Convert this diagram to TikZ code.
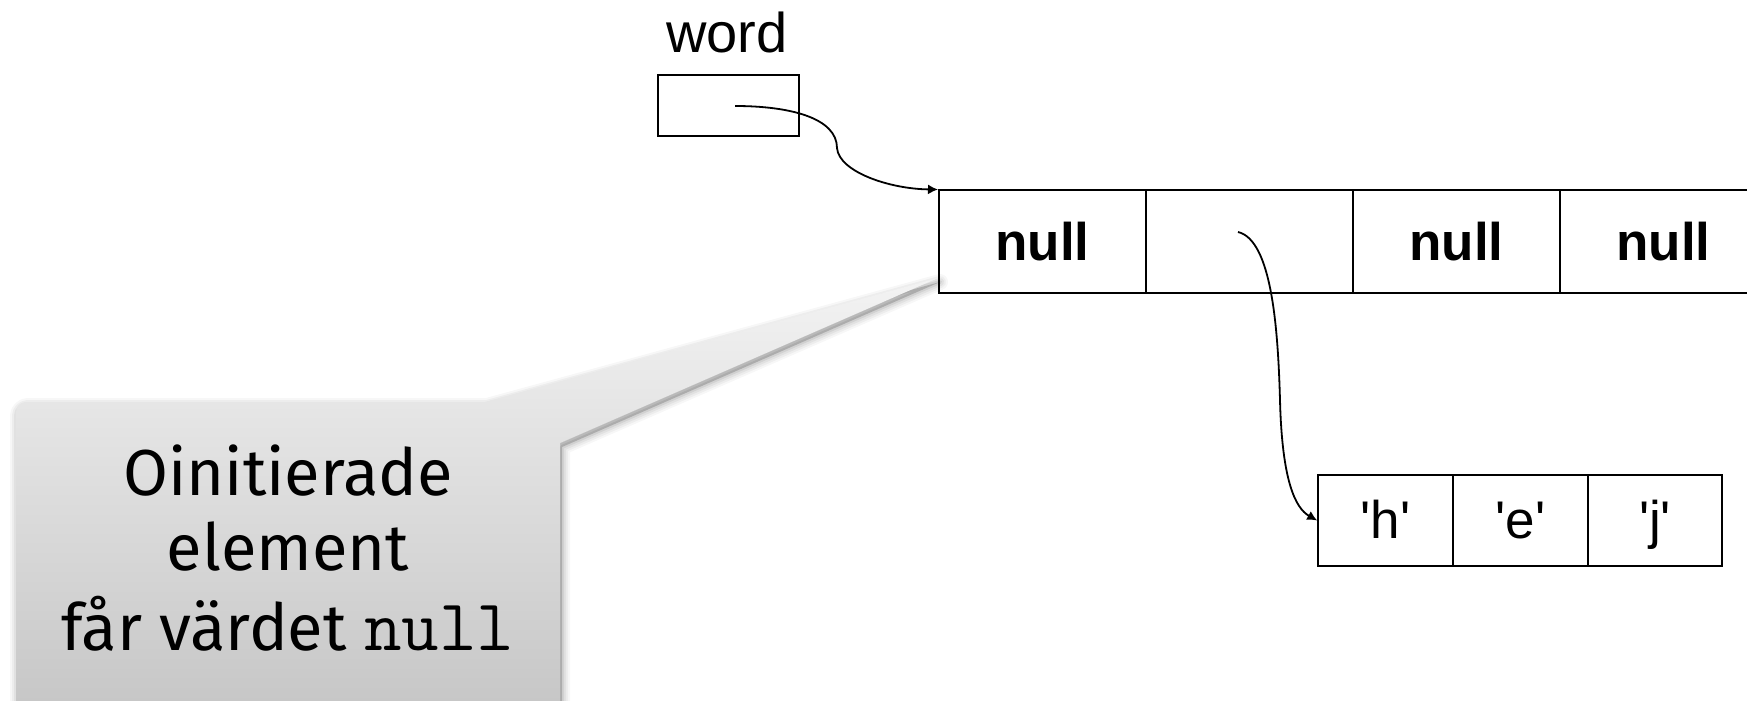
\documentclass[tikz,border=0pt]{standalone}
\usepackage{fontspec}
\setmainfont{Liberation Sans}
\newfontfamily\notefont{Fira Sans}
\usetikzlibrary{arrows.meta}

\definecolor{noteTop}{gray}{0.953}
\definecolor{noteBottom}{gray}{0.773}

% outline of the speech bubble (box with a pointer towards the array)
\newcommand\bubbleoutline{(16,720) -- (16,412) arc[start angle=180,end angle=270,radius=10]
  -- (485,402) -- (938,278) -- (560,443) -- (560,720) -- cycle}
% a character literal with straight quotes
\newcommand\charlit[1]{\textquotesingle#1\textquotesingle}

\begin{document}
\begin{tikzpicture}[x=0.5pt,y=-0.5pt,
  box/.style={draw, line width=1pt, inner sep=0pt},
  refcell/.style={box, minimum width=103.5pt, minimum height=51pt,
    font=\fontsize{26.5}{30}\selectfont\bfseries, text height=19pt, text depth=0pt},
  charcell/.style={box, minimum width=67.3pt, minimum height=45.5pt,
    font=\fontsize{26.5}{30}\selectfont, text height=17.5pt, text depth=0pt},
  ptr/.style={line width=0.9pt, -{Latex[length=5pt,width=5pt]}},
  notetext/.style={anchor=base, font=\notefont\fontsize{32.5}{39}\selectfont}
]
\useasboundingbox (0,0) rectangle (1747,701);
\clip (0,0) rectangle (1747,701);

% --- speech bubble: soft shadow, then gradient body ---
\foreach \w/\o in {8pt/0.03, 6pt/0.04, 4pt/0.05, 2pt/0.07}{
  \path[draw=black, fill=black, draw opacity=\o, fill opacity=\o,
        line width=\w, line join=round, shift={(2,4)}] \bubbleoutline;
}
\path[top color=noteTop, bottom color=noteBottom] \bubbleoutline;

\node[notetext] (note1) at (288,495) {Oinitierade};
\node[notetext] (note2) at (288,570) {element};
\node[notetext] (note3) at (288,650) {får värdet {\fontsize{36.5}{39}\selectfont\ttfamily null}};

% --- the variable ---
\node[anchor=base, font=\fontsize{28}{32}\selectfont] (wordlabel) at (727,53) {word};
\node[box, minimum width=70.5pt, minimum height=30.5pt] (wordbox) at (728.5,105.5) {};
\coordinate (wordref) at (735,106);

% --- array of references ---
\node[refcell] (c1) at (1042.5,241.5) {null};
\node[refcell] (c2) at (1249.5,241.5) {};
\node[refcell] (c3) at (1456.5,241.5) {null};
\node[refcell] (c4) at (1663.5,241.5) {null};
\coordinate (elemref) at (1238,232);

% --- character array ---
\node[charcell] (h1) at (1385.5,520.5) {\charlit{h}};
\node[charcell] (h2) at (1520.5,520.5) {\charlit{e}};
\node[charcell] (h3) at (1655,520.5) {\charlit{j}};

% --- references ---
\draw[ptr] (wordref) .. controls (790,106) and (837,118) .. (837,148)
  .. controls (839,172) and (890,189) .. (c1.north west);
\draw[ptr] (elemref) .. controls (1272,240) and (1278,330) .. (1280,400)
  .. controls (1282,480) and (1295,508) .. (h1.west);
\end{tikzpicture}
\end{document}
